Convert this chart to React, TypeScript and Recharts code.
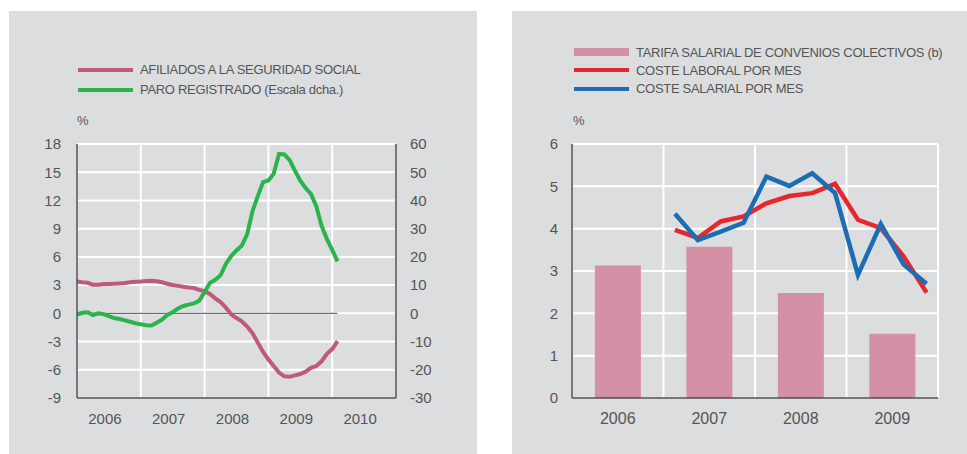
import { ComposedChart, Line, Bar, XAxis, YAxis, CartesianGrid, ReferenceLine } from "recharts";

const PANEL_BG = "#dcdddf";
const TEXT = "#555555";
const AXIS = "#4a4a4a";

// left panel: monthly year-on-year rates, Jan 2006 - Feb 2010
const LEFT_YEARS = ["2006", "2007", "2008", "2009", "2010"];
const AFILIADOS = [
  3.4, 3.3, 3.25, 3.05, 3.05, 3.12, 3.12, 3.15, 3.18, 3.22, 3.3, 3.35,
  3.38, 3.45, 3.47, 3.4, 3.3, 3.15, 3.02, 2.92, 2.82, 2.75, 2.68, 2.5,
  2.35, 2.05, 1.6, 1.2, 0.6, -0.1, -0.5, -0.85, -1.4, -2.1, -3.1, -4.1,
  -4.9, -5.6, -6.3, -6.7, -6.75, -6.6, -6.45, -6.2, -5.8, -5.6, -5.1, -4.3,
  -3.8, -2.95,
];
const PARO = [
  -0.5, 0.2, 0.4, -0.6, 0.0, -0.3, -1.0, -1.7, -2.0, -2.5, -3.0, -3.5,
  -3.9, -4.25, -4.3, -3.3, -2.2, -0.6, 0.4, 1.7, 2.6, 3.1, 3.5, 4.5,
  7.5, 10.8, 11.9, 13.5, 17.5, 20.3, 22.3, 24.0, 28.0, 36.1, 41.5, 46.5,
  47.1, 49.5, 56.5, 56.3, 54.3, 50.5, 47.0, 44.4, 42.3, 38.0, 31.0, 26.3,
  22.5, 18.4,
];
const LEFT_TICKS = [-9, -6, -3, 0, 3, 6, 9, 12, 15, 18];
const RIGHT_TICKS = [-30, -20, -10, 0, 10, 20, 30, 40, 50, 60];

// right panel: annual bars + quarterly lines from 2007 Q1
const RIGHT_YEARS = ["2006", "2007", "2008", "2009"];
const TARIFA = [3.13, 3.57, 2.48, 1.52];
const LABORAL = [3.97, 3.78, 4.17, 4.29, 4.6, 4.77, 4.84, 5.06, 4.21, 4.01, 3.34, 2.49];
const SALARIAL = [4.35, 3.73, 3.93, 4.14, 5.23, 5.01, 5.31, 4.84, 2.91, 4.11, 3.15, 2.7];
const PCT_TICKS = [0, 1, 2, 3, 4, 5, 6];

const monthly = AFILIADOS.map((v, i) => ({ m: i, afiliados: v, paro: PARO[i] }));
const annual = RIGHT_YEARS.map((y, i) => ({ year: y, tarifa: TARIFA[i] }));
const quarterly = LABORAL.map((v, i) => ({ q: 1 + (i + 0.5) / 4, laboral: v, salarial: SALARIAL[i] }));

const LEFT_LEGEND = [
  { label: "AFILIADOS A LA SEGURIDAD SOCIAL", color: "#c05a7a", kind: "line" },
  { label: "PARO REGISTRADO (Escala dcha.)", color: "#2cb34b", kind: "line" },
];
const RIGHT_LEGEND = [
  { label: "TARIFA SALARIAL DE CONVENIOS COLECTIVOS (b)", color: "#d490a5", kind: "bar" },
  { label: "COSTE LABORAL POR MES", color: "#e8262b", kind: "line" },
  { label: "COSTE SALARIAL POR MES", color: "#1d6db4", kind: "line" },
];

type LegendItem = { label: string; color: string; kind: string };

function LegendBlock({ items, left, top, rowH }: { items: LegendItem[]; left: number; top: number; rowH: number }) {
  return (
    <div style={{ position: "absolute", left, top }}>
      {items.map((it) => (
        <div key={it.label} style={{ display: "flex", alignItems: "center", height: rowH }}>
          <div
            style={{
              width: 55,
              height: it.kind === "bar" ? 8 : 4,
              background: it.color,
              marginRight: 7,
            }}
          />
          <span style={{ fontSize: 13, letterSpacing: -0.3, color: TEXT, whiteSpace: "nowrap" }}>{it.label}</span>
        </div>
      ))}
    </div>
  );
}

const axisLine = { stroke: AXIS, strokeWidth: 1.5 };

function LeftPanel() {
  return (
    <div style={{ position: "absolute", left: 9, top: 11, width: 468, height: 443, background: PANEL_BG }}>
      <LegendBlock items={LEFT_LEGEND} left={69} top={49} rowH={19.7} />
      <div style={{ position: "absolute", left: 68, top: 102, fontSize: 13, color: TEXT }}>%</div>
      <ComposedChart width={468} height={443} data={monthly} margin={{ top: 133, right: 0, bottom: 0, left: 0 }}>
        <CartesianGrid stroke="#ffffff" strokeWidth={2} fill="none" xAxisId="m" yAxisId="l" />
        <XAxis xAxisId="m" type="number" dataKey="m" domain={[0, 60]} ticks={[0, 12, 24, 36, 48, 60]} hide allowDataOverflow />
        <XAxis
          xAxisId="lab"
          type="number"
          dataKey="m"
          domain={[0, 60]}
          allowDataOverflow
          ticks={LEFT_YEARS.map((_, i) => i * 12 + 6)}
          tickFormatter={(v: number) => LEFT_YEARS[Math.round((v - 6) / 12)]}
          interval={0}
          height={56}
          axisLine={axisLine}
          tickLine={false}
          tickSize={0}
          tickMargin={15}
          tick={{ fill: TEXT, fontSize: 15, dx: -4 }}
        />
        <YAxis
          yAxisId="l"
          domain={[-9, 18]}
          ticks={LEFT_TICKS}
          interval={0}
          width={68}
          axisLine={axisLine}
          tickLine={false}
          tickSize={0}
          tickMargin={16}
          tick={{ fill: TEXT, fontSize: 15 }}
        />
        <YAxis
          yAxisId="r"
          orientation="right"
          domain={[-30, 60]}
          ticks={RIGHT_TICKS}
          interval={0}
          width={81}
          axisLine={axisLine}
          tickLine={false}
          tickSize={0}
          tickMargin={14}
          tick={{ fill: TEXT, fontSize: 15 }}
        />
        <ReferenceLine
          xAxisId="m"
          yAxisId="l"
          segment={[{ x: 0, y: 0 }, { x: monthly.length - 1, y: 0 }]}
          stroke="#6b6b6b"
          strokeWidth={1.2}
        />
        <Line xAxisId="m" yAxisId="l" dataKey="afiliados" stroke="#c05a7a" strokeWidth={4} dot={false} activeDot={false} isAnimationActive={false} />
        <Line xAxisId="m" yAxisId="r" dataKey="paro" stroke="#2cb34b" strokeWidth={4} dot={false} activeDot={false} isAnimationActive={false} />
      </ComposedChart>
    </div>
  );
}

function RightPanel() {
  return (
    <div style={{ position: "absolute", left: 512, top: 11, width: 455, height: 443, background: PANEL_BG }}>
      <LegendBlock items={RIGHT_LEGEND} left={62} top={32} rowH={18.3} />
      <div style={{ position: "absolute", left: 61, top: 102, fontSize: 13, color: TEXT }}>%</div>
      <ComposedChart
        width={455}
        height={443}
        data={annual}
        margin={{ top: 133, right: 29, bottom: 0, left: 0 }}
        barCategoryGap="25%"
      >
        <CartesianGrid stroke="#ffffff" strokeWidth={2} fill="none" xAxisId="q" yAxisId="p" />
        <XAxis
          xAxisId="cat"
          dataKey="year"
          height={56}
          axisLine={axisLine}
          tickLine={false}
          tickSize={0}
          tickMargin={15}
          tick={{ fill: TEXT, fontSize: 16 }}
        />
        <XAxis xAxisId="q" type="number" dataKey="q" domain={[0, 4]} ticks={[0, 1, 2, 3, 4]} hide allowDataOverflow />
        <YAxis
          yAxisId="p"
          domain={[0, 6]}
          ticks={PCT_TICKS}
          interval={0}
          width={60}
          axisLine={axisLine}
          tickLine={false}
          tickSize={0}
          tickMargin={14}
          tick={{ fill: TEXT, fontSize: 15 }}
        />
        <Bar xAxisId="cat" yAxisId="p" dataKey="tarifa" fill="#d490a5" isAnimationActive={false} />
        <Line xAxisId="q" yAxisId="p" data={quarterly} dataKey="laboral" stroke="#e8262b" strokeWidth={4.5} dot={false} activeDot={false} isAnimationActive={false} />
        <Line xAxisId="q" yAxisId="p" data={quarterly} dataKey="salarial" stroke="#1d6db4" strokeWidth={4.5} dot={false} activeDot={false} isAnimationActive={false} />
      </ComposedChart>
    </div>
  );
}

export default function App() {
  return (
    <div
      style={{
        position: "absolute",
        left: 0,
        top: 0,
        width: 967,
        height: 454,
        background: "#ffffff",
        fontFamily: "'Liberation Sans', Arial, sans-serif",
        overflow: "hidden",
      }}
    >
      <LeftPanel />
      <RightPanel />
    </div>
  );
}
